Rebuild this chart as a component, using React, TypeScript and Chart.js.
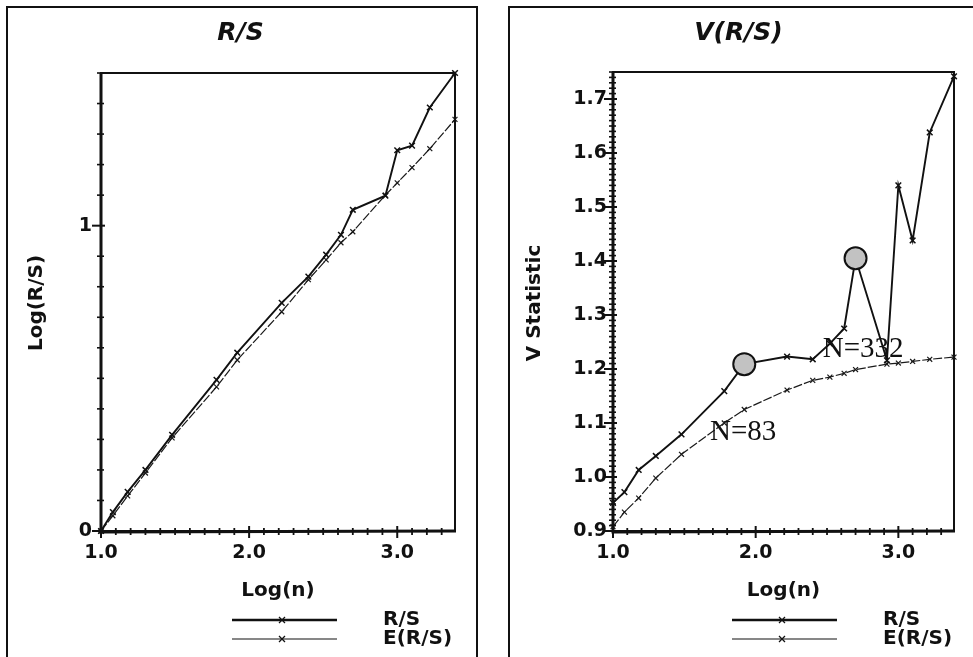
import React, { useEffect, useRef } from "react";
import { Chart, registerables } from "chart.js";

Chart.register(...registerables);

// ---- data ----
const logN = [1.0, 1.08, 1.18, 1.30, 1.48, 1.78, 1.92, 2.22, 2.40, 2.52, 2.62, 2.70, 2.92, 3.00, 3.10, 3.22, 3.39];
const logRS = [0.0, 0.062, 0.128, 0.2, 0.315, 0.495, 0.584, 0.747, 0.833, 0.905, 0.97, 1.052, 1.098, 1.247, 1.262, 1.387, 1.5];
const logERS = [0.0, 0.05, 0.115, 0.19, 0.305, 0.472, 0.56, 0.718, 0.823, 0.888, 0.944, 0.98, 1.1, 1.14, 1.19, 1.252, 1.348];
const vRS = [0.952, 0.972, 1.013, 1.039, 1.079, 1.159, 1.209, 1.223, 1.218, 1.247, 1.275, 1.405, 1.216, 1.54, 1.438, 1.638, 1.742];
const vERS = [0.908, 0.935, 0.961, 0.998, 1.042, 1.1, 1.125, 1.161, 1.179, 1.185, 1.192, 1.199, 1.209, 1.211, 1.214, 1.218, 1.222];
const highlightN = [1.92, 2.70];
const highlightV = [1.209, 1.405];
const noteText = ["N=83", "N=332"];
const noteX = [1.68, 2.47];
const noteY = [1.068, 1.222];
const seriesLabels = ["R/S", "E(R/S)"];
const xAxisTitle = "Log(n)";

const SANS = "'DejaVu Sans', 'Liberation Sans', sans-serif";
const SERIF = "'Liberation Serif', 'DejaVu Serif', serif";
const INK = "#111";

type Spec = {
  title: string;
  yTitle: string;
  rs: number[];
  ers: number[];
  w: number;
  xMax: number;
  yMin: number;
  yMax: number;
  yStep: number;
  yMajor: number;
  yDigits: number;
  yAxisW: number;
  padTop: number;
  padRight: number;
  yPad: number;
  yTitleX: number;
  legendX0: number;
  legendX1: number;
  legendTextX: number;
  hx?: number[];
  hy?: number[];
  notes?: boolean;
};

const leftSpec: Spec = {
  title: "R/S",
  yTitle: "Log(R/S)",
  rs: logRS,
  ers: logERS,
  w: 471,
  xMax: 3.39,
  yMin: 0,
  yMax: 1.5,
  yStep: 0.1,
  yMajor: 1,
  yDigits: 0,
  yAxisW: 94,
  padTop: 66,
  padRight: 23,
  yPad: 9,
  yTitleX: 30,
  legendX0: 225,
  legendX1: 330,
  legendTextX: 376,
};

const rightSpec: Spec = {
  title: "V(R/S)",
  yTitle: "V Statistic",
  rs: vRS,
  ers: vERS,
  w: 463,
  xMax: 3.39,
  yMin: 0.9,
  yMax: 1.75,
  yStep: 0.01,
  yMajor: 0.1,
  yDigits: 1,
  yAxisW: 104,
  padTop: 65,
  padRight: 18,
  yPad: 6,
  yTitleX: 26,
  legendX0: 223,
  legendX1: 328,
  legendTextX: 374,
  hx: highlightN,
  hy: highlightV,
  notes: true,
};

const isMult = (v: number, m: number) => Math.abs(v / m - Math.round(v / m)) < 1e-6;

function drawCross(ctx: CanvasRenderingContext2D, x: number, y: number, r: number) {
  ctx.beginPath();
  ctx.moveTo(x - r, y - r);
  ctx.lineTo(x + r, y + r);
  ctx.moveTo(x - r, y + r);
  ctx.lineTo(x + r, y - r);
  ctx.stroke();
}

function decor(spec: Spec) {
  return {
    id: "decor",
    afterDraw(chart: any) {
      const ctx: CanvasRenderingContext2D = chart.ctx;
      const a = chart.chartArea;
      const xs = chart.scales.x;
      const ys = chart.scales.y;
      ctx.save();
      ctx.strokeStyle = INK;
      ctx.fillStyle = INK;

      // frame
      ctx.lineWidth = 2;
      ctx.strokeRect(a.left, a.top, a.right - a.left, a.bottom - a.top);
      ctx.lineWidth = 3;
      ctx.beginPath();
      ctx.moveTo(a.left, a.top);
      ctx.lineTo(a.left, a.bottom + 1);
      ctx.lineTo(a.right + 1, a.bottom);
      ctx.stroke();

      // x tick marks
      xs.ticks.forEach((t: any) => {
        if (!isMult(t.value, 0.1)) return;
        const px = xs.getPixelForValue(t.value);
        const major = isMult(t.value, 1);
        ctx.lineWidth = major ? 2 : 1.8;
        ctx.beginPath();
        ctx.moveTo(px, a.bottom - (major ? 5 : 3));
        ctx.lineTo(px, a.bottom + (major ? 7 : 4));
        ctx.stroke();
      });
      // y tick marks
      ys.ticks.forEach((t: any) => {
        if (!isMult(t.value, spec.yStep)) return;
        const py = ys.getPixelForValue(t.value);
        const major = isMult(t.value, spec.yMajor);
        ctx.lineWidth = major ? 2 : 1.6;
        ctx.beginPath();
        ctx.moveTo(a.left - (major ? 9 : 4), py);
        ctx.lineTo(a.left + (major ? 4 : 3), py);
        ctx.stroke();
      });

      // panel title
      ctx.textAlign = "center";
      ctx.textBaseline = "middle";
      ctx.font = `italic bold 25px ${SANS}`;
      ctx.fillText(spec.title, chart.width / 2 - 2, 26);

      // x-axis title
      ctx.font = `bold 20px ${SANS}`;
      ctx.fillText(xAxisTitle, (a.left + a.right) / 2, 584);

      // y-axis title
      ctx.save();
      ctx.translate(spec.yTitleX, 296);
      ctx.rotate(-Math.PI / 2);
      ctx.fillText(spec.yTitle, 0, 0);
      ctx.restore();

      // legend
      const rows = [613, 632];
      rows.forEach((ly, i) => {
        ctx.lineWidth = i === 0 ? 2.4 : 1.2;
        ctx.beginPath();
        ctx.moveTo(spec.legendX0, ly);
        ctx.lineTo(spec.legendX1, ly);
        ctx.stroke();
        ctx.lineWidth = 1.3;
        drawCross(ctx, spec.legendX0 + 50, ly, 3);
        ctx.textAlign = "left";
        ctx.font = `bold 20px ${SANS}`;
        ctx.fillText(seriesLabels[i], spec.legendTextX, ly);
      });

      // annotations
      if (spec.notes) {
        ctx.font = `29px ${SERIF}`;
        ctx.textAlign = "left";
        ctx.textBaseline = "alphabetic";
        noteText.forEach((txt, i) => {
          ctx.fillText(txt, xs.getPixelForValue(noteX[i]), ys.getPixelForValue(noteY[i]));
        });
      }
      ctx.restore();
    },
  };
}

function makeConfig(spec: Spec): any {
  const datasets: any[] = [
    {
      label: seriesLabels[0],
      data: logN.map((x, i) => ({ x, y: spec.rs[i] })),
      borderColor: INK,
      borderWidth: 1.9,
      pointStyle: "crossRot",
      pointRadius: 4,
      pointBorderWidth: 1.5,
      pointBorderColor: INK,
      pointBackgroundColor: INK,
      tension: 0,
      fill: false,
      order: 1,
      clip: false,
    },
    {
      label: seriesLabels[1],
      data: logN.map((x, i) => ({ x, y: spec.ers[i] })),
      borderColor: "#1a1a1a",
      borderWidth: 1.2,
      borderDash: [9, 2],
      pointStyle: "crossRot",
      pointRadius: 3.5,
      pointBorderWidth: 1.2,
      pointBorderColor: "#1a1a1a",
      tension: 0,
      fill: false,
      order: 2,
      clip: false,
    },
  ];
  if (spec.hx && spec.hy) {
    const hy = spec.hy;
    datasets.push({
      label: "highlight",
      data: spec.hx.map((x, i) => ({ x, y: hy[i] })),
      showLine: false,
      pointStyle: "circle",
      pointRadius: 11,
      pointBackgroundColor: "#c2c2c2",
      pointBorderColor: INK,
      pointBorderWidth: 2,
      order: 0,
      clip: false,
    });
  }
  const tickFont = { family: SANS, size: 19, weight: "bold" };
  return {
    type: "line",
    data: { datasets },
    options: {
      animation: false,
      responsive: false,
      maintainAspectRatio: false,
      devicePixelRatio: 1,
      events: [],
      layout: { padding: { left: 0, right: spec.padRight, top: spec.padTop, bottom: 0 } },
      plugins: { legend: { display: false }, tooltip: { enabled: false }, title: { display: false } },
      scales: {
        x: {
          type: "linear",
          min: 1,
          max: spec.xMax,
          afterFit: (s: any) => {
            s.height = 126;
          },
          grid: { display: false, drawTicks: false, drawOnChartArea: false },
          border: { display: false },
          ticks: {
            stepSize: 0.1,
            includeBounds: false,
            autoSkip: false,
            maxRotation: 0,
            minRotation: 0,
            maxTicksLimit: 1000,
            color: INK,
            font: tickFont,
            padding: 11,
            callback: (v: number) => (isMult(v, 1) ? v.toFixed(1) : ""),
          },
        },
        y: {
          type: "linear",
          min: spec.yMin,
          max: spec.yMax,
          afterFit: (s: any) => {
            s.width = spec.yAxisW;
          },
          grid: { display: false, drawTicks: false, drawOnChartArea: false },
          border: { display: false },
          ticks: {
            stepSize: spec.yStep,
            includeBounds: false,
            autoSkip: false,
            maxTicksLimit: 1000,
            color: INK,
            font: tickFont,
            padding: spec.yPad,
            callback: (v: number) => (isMult(v, spec.yMajor) ? v.toFixed(spec.yDigits) : ""),
          },
        },
      },
    },
    plugins: [decor(spec)],
  };
}

function Panel({ spec, left }: { spec: Spec; left: number }) {
  const ref = useRef<HTMLCanvasElement>(null);
  useEffect(() => {
    const chart = new Chart(ref.current as HTMLCanvasElement, makeConfig(spec));
    return () => chart.destroy();
  }, [spec]);
  return (
    <canvas
      ref={ref}
      width={spec.w}
      height={650}
      style={{ position: "absolute", left, top: 7, width: spec.w, height: 650 }}
    />
  );
}

export default function App() {
  return (
    <div
      style={{
        position: "absolute",
        left: 0,
        top: 0,
        width: 973,
        height: 657,
        overflow: "hidden",
        background: "#fff",
      }}
    >
      <div
        style={{
          position: "absolute",
          left: 6,
          top: 6,
          width: 472,
          height: 700,
          border: "2px solid #111",
          boxSizing: "border-box",
        }}
      />
      <div
        style={{
          position: "absolute",
          left: 508,
          top: 6,
          width: 500,
          height: 700,
          border: "2px solid #111",
          boxSizing: "border-box",
        }}
      />
      <Panel spec={leftSpec} left={7} />
      <Panel spec={rightSpec} left={509} />
    </div>
  );
}
